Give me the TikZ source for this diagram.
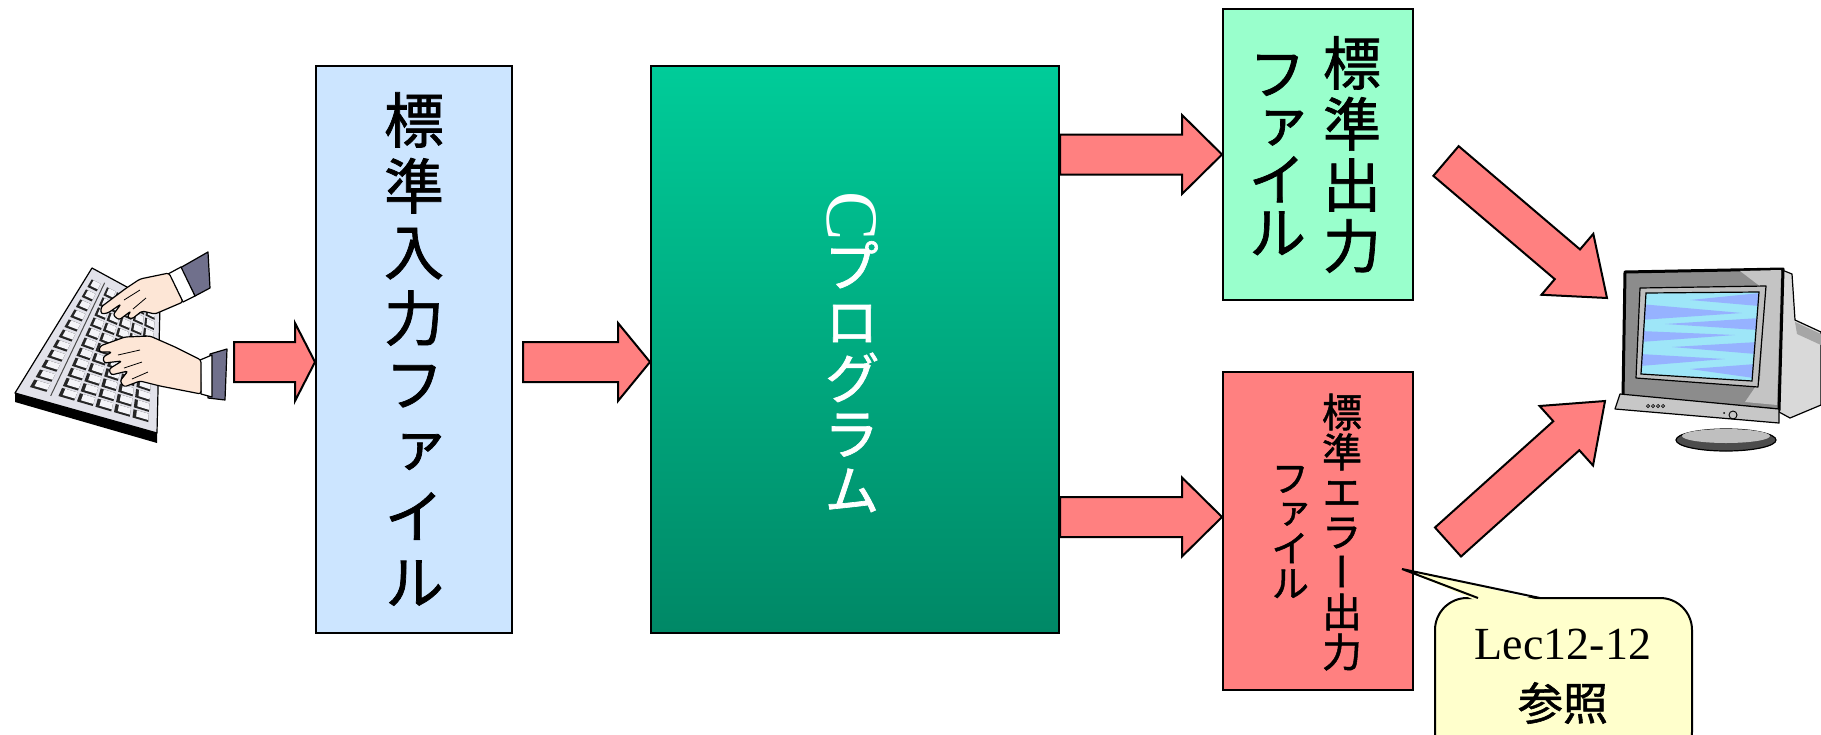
\documentclass[tikz,border=0pt]{standalone}
\usepackage{fontspec}
\setmainfont{Liberation Serif}
\newfontfamily\jpv[RawFeature=+vert, FakeBold=1.2]{Noto Sans CJK JP}
\newfontfamily\jp[FakeBold=1.2]{Noto Sans CJK JP}
\usetikzlibrary{calc}

\definecolor{inblue}{RGB}{204,229,255}
\definecolor{outgreen}{RGB}{153,255,204}
\definecolor{errred}{RGB}{255,128,128}
\definecolor{progtop}{RGB}{0,204,153}
\definecolor{progbot}{RGB}{0,136,102}
\definecolor{notefill}{RGB}{255,255,204}
\definecolor{kbgray}{RGB}{226,226,234}
\definecolor{keyface}{RGB}{244,244,248}
\definecolor{skin}{RGB}{253,230,214}
\definecolor{sleeve}{RGB}{112,112,140}
\definecolor{bezel}{RGB}{140,140,140}
\definecolor{bezellight}{RGB}{196,196,196}
\definecolor{scrblue}{RGB}{150,178,255}
\definecolor{scrcyan}{RGB}{158,230,248}

\tikzset{
  box/.style={draw=black, line width=2pt, inner sep=0pt},
  blockarrow/.style={draw=black, fill=errred, line width=2pt, line join=miter},
  vtext/.style args={#1/#2}{align=center, inner sep=0pt,
    font={\jpv\fontsize{#1}{#2}\selectfont\lineskiplimit=-100pt\lineskip=0pt}},
  outl/.style={draw=black, line width=1.2pt, line join=round},
}

% block arrow from #1 to #2: half body width, half head width, head length
\newcommand\barrow[5]{%
  \path let \p1=(#1), \p2=(#2) in \pgfextra{%
    \pgfmathsetmacro\baangL{atan2(\y2-\y1,\x2-\x1)}%
    \pgfmathsetmacro\balenL{veclen(\x2-\x1,\y2-\y1)}%
    \pgfmathsetmacro\baxL{\x1}\pgfmathsetmacro\bayL{\y1}%
    \xdef\baang{\baangL}\xdef\balen{\balenL}\xdef\bax{\baxL}\xdef\bay{\bayL}};
  \begin{scope}[shift={(\bax pt,\bay pt)}, rotate=\baang]
    \draw[blockarrow] (0,#3) -- ({\balen-#5},#3) -- ({\balen-#5},#4) -- (\balen,0)
      -- ({\balen-#5},-#4) -- ({\balen-#5},-#3) -- (0,-#3) -- cycle;
  \end{scope}}

% point on the keyboard face, s across, l along
\newcommand\kbp[3]{%
  \pgfmathsetmacro\kbx{(1-(#3))*((1-(#2))*92+(#2)*160)+(#3)*((1-(#2))*15+(#2)*157)}%
  \pgfmathsetmacro\kby{(1-(#3))*((1-(#2))*268+(#2)*305)+(#3)*((1-(#2))*393+(#2)*433)}%
  \coordinate (#1) at (\kbx,\kby);}
\newcommand\kbkey[4]{%
  \kbp{ka}{#1}{#3}\kbp{kb}{#2}{#3}\kbp{kc}{#2}{#4}\kbp{kd}{#1}{#4}%
  \fill[black!85] (ka) -- (kb) -- (kc) -- (kd) -- cycle;
  \kbp{ka}{#1+0.025}{#3}\kbp{kb}{#2}{#3}\kbp{kc}{#2}{#4-0.016}\kbp{kd}{#1+0.025}{#4-0.016}%
  \fill[keyface] (ka) -- (kb) -- (kc) -- (kd) -- cycle;}

\begin{document}
\begin{tikzpicture}[x=1pt, y=-1pt]
\useasboundingbox (0,0) rectangle (1821,734);
\fill[white] (0,0) rectangle (1821,734);

% ---------- keyboard with typing hands ----------
\begin{scope}
  \fill[black] (15,393) -- (157,433) -- (157,443) -- (15,402) -- cycle;
  \filldraw[fill=kbgray, outl] (92,268) -- (160,305) -- (157,433) -- (15,393) -- cycle;
  \kbp{sa}{0.23}{0.05}\kbp{sb}{0.23}{0.95}
  \draw[black!70, line width=1pt] (sa) -- (sb);
  \foreach \i in {0,...,10}{
    \kbkey{0.07}{0.19}{0.07+\i*0.08}{0.13+\i*0.08}
  }
  \foreach \j in {0,...,4}{
    \foreach \i in {0,...,10}{
      \kbkey{0.28+\j*0.135}{0.395+\j*0.135}{0.07+\i*0.08}{0.135+\i*0.08}
    }
  }
  % upper hand
  \filldraw[fill=sleeve, outl] (180,268) -- (208,252) -- (210,288) -- (195,296) -- cycle;
  \filldraw[fill=white, outl] (168,274) -- (181,267) -- (195,296) -- (183,302) -- cycle;
  \filldraw[fill=skin, outl, rounded corners=2.5pt]
    (169,273) -- (140,279) -- (125,289) -- (101,307) -- (101,314) -- (108,313)
    -- (121,304) -- (113,315) -- (119,320) -- (131,311) -- (127,317) -- (132,319)
    -- (142,311) -- (155,314) -- (183,302) -- cycle;
  \draw[line width=0.8pt] (140,290) -- (124,300) (146,298) -- (133,309);
  % lower hand
  \filldraw[fill=sleeve, outl] (210,354) -- (227,349) -- (225,400) -- (208,398) -- cycle;
  \filldraw[fill=white, outl] (200,360) -- (212,355) -- (212,397) -- (201,394) -- cycle;
  \filldraw[fill=skin, outl, rounded corners=2.5pt]
    (201,360) -- (175,347) -- (150,336) -- (125,337) -- (100,346) -- (99,352)
    -- (112,352) -- (103,357) -- (104,363) -- (122,361) -- (109,369) -- (111,375)
    -- (128,371) -- (120,381) -- (124,387) -- (140,381) -- (160,386) -- (201,394) -- cycle;
  \draw[line width=0.8pt] (140,350) -- (118,355) (142,362) -- (124,368) (148,372) -- (132,379);
  \coordinate (kbout) at (234,362);
\end{scope}

% ---------- display ----------
\begin{scope}
  \filldraw[fill=black!70, outl] (1726,440) ellipse [x radius=50, y radius=11];
  \fill[black!25] (1726,436) ellipse [x radius=44, y radius=7];
  \filldraw[fill=black!15, outl] (1782,270) -- (1792,274) -- (1795,320) -- (1821,332)
    -- (1821,405) -- (1790,418) -- (1779,412) -- cycle;
  \fill[black!35] (1795,322) -- (1821,334) -- (1821,345) -- (1797,334) -- cycle;
  \filldraw[fill=bezel, draw=black, line width=3pt, line join=round]
    (1625,272) -- (1783,269) -- (1779,410) -- (1623,396) -- cycle;
  \fill[bezellight] (1740,271) -- (1781,270) -- (1777,405) -- (1745,402) -- (1760,380) -- (1765,290) -- cycle;
  \filldraw[fill=black!22, outl] (1620,394) -- (1779,409) -- (1779,423) -- (1615,409) -- cycle;
  \foreach \bx in {1648,1653,1658,1663}{\draw[line width=0.6pt] (\bx,406) circle [radius=1.6];}
  \draw[line width=0.9pt] (1733,415) circle [radius=4];
  \fill (1724,413) circle [radius=1];
  \filldraw[fill=black!25, outl] (1640,288) -- (1766,286) -- (1758,387) -- (1636,378) -- cycle;
  \begin{scope}
    \clip (1646,293) -- (1759,292) -- (1752,381) -- (1641,374) -- cycle;
    \fill[scrcyan] (1630,280) rectangle (1770,390);
    \fill[scrblue] (1760,293) -- (1690,300) -- (1759,306) -- cycle;
    \fill[scrblue] (1640,304) -- (1742,313) -- (1640,320) -- cycle;
    \fill[scrblue] (1760,318) -- (1665,324) -- (1758,330) -- cycle;
    \fill[scrblue] (1640,331) -- (1735,335) -- (1640,342) -- cycle;
    \fill[scrblue] (1758,342) -- (1672,347) -- (1756,354) -- cycle;
    \fill[scrblue] (1640,354) -- (1725,359) -- (1640,366) -- cycle;
    \fill[scrblue] (1756,364) -- (1690,369) -- (1754,378) -- cycle;
  \end{scope}
  \draw[line width=1.2pt] (1646,293) -- (1759,292) -- (1752,381) -- (1641,374) -- cycle;
  \coordinate (dispA) at (1607,298);
  \coordinate (dispB) at (1605,401);
\end{scope}

% ---------- files and program ----------
\node[box, fill=inblue, minimum width=196pt, minimum height=567pt] (stdin) at (414,349.5) {};
\node[box, top color=progtop, bottom color=progbot, minimum width=408pt, minimum height=567pt] (cprog) at (855,349.5) {};
\node[box, fill=outgreen, minimum width=190pt, minimum height=291pt] (stdout) at (1318,154.5) {};
\node[box, fill=errred, minimum width=190pt, minimum height=318pt] (stderr) at (1318,531) {};

\node[vtext=60/66] (stdinlbl) at (414,349) {標\\準\\入\\力\\フ\\ァ\\イ\\ル};
\node[rotate=-90, inner sep=0pt, text=white, font=\rmfamily\fontsize{74}{74}\selectfont] (cletter) at (852,216) {C};
\node[vtext=56/56, text=white, anchor=north] (cproglbl) at (852,241) {プ\\ロ\\グ\\ラ\\ム};
\node[vtext=58/61] (stdoutlbl1) at (1352,154.5) {標\\準\\出\\力};
\node[vtext=58/53] (stdoutlbl2) at (1277,155) {フ\\ァ\\イ\\ル};
\node[vtext=40/40] (stderrlbl1) at (1342,532) {標\\準\\エ\\ラ\\ー\\出\\力};
\node[vtext=38/35] (stderrlbl2) at (1290,532) {フ\\ァ\\イ\\ル};

% ---------- block arrows ----------
\coordinate (a1e) at ([yshift=-12.5pt]stdin.west);
\coordinate (a2s) at ([xshift=10pt,yshift=-12.5pt]stdin.east);
\coordinate (a2e) at ([yshift=-12.5pt]cprog.west);
\coordinate (a3s) at (cprog.east |- stdout.west);
\coordinate (a4e) at ([yshift=14pt]stderr.west);
\coordinate (a4s) at (cprog.east |- a4e);
\coordinate (a5s) at (1446,161);
\coordinate (a6s) at (1448,542);

\barrow{kbout}{a1e}{20}{39}{20}
\barrow{a2s}{a2e}{20}{39}{32}
\barrow{a3s}{stdout.west}{20}{39.5}{40}
\barrow{a4s}{a4e}{20}{39.5}{40}
\barrow{a5s}{dispA}{19.5}{40}{52}
\barrow{a6s}{dispB}{19.5}{40}{52}

% ---------- note ----------
\filldraw[fill=notefill, draw=black, line width=2pt, rounded corners=32pt] (1435,598) rectangle (1692,764);
\fill[notefill] (1476,600.5) -- (1402,569) -- (1542,600.5) -- cycle;
\draw[line width=2pt, line join=miter] (1478,598) -- (1402,569) -- (1540,598);
\node[anchor=base, inner sep=0pt, font=\rmfamily\fontsize{46}{46}\selectfont] (notel1) at (1563,659) {Lec12-12};
\node[anchor=base, inner sep=0pt, font=\jp\fontsize{45}{45}\selectfont] (notel2) at (1563,720) {参照};
\end{tikzpicture}
\end{document}
